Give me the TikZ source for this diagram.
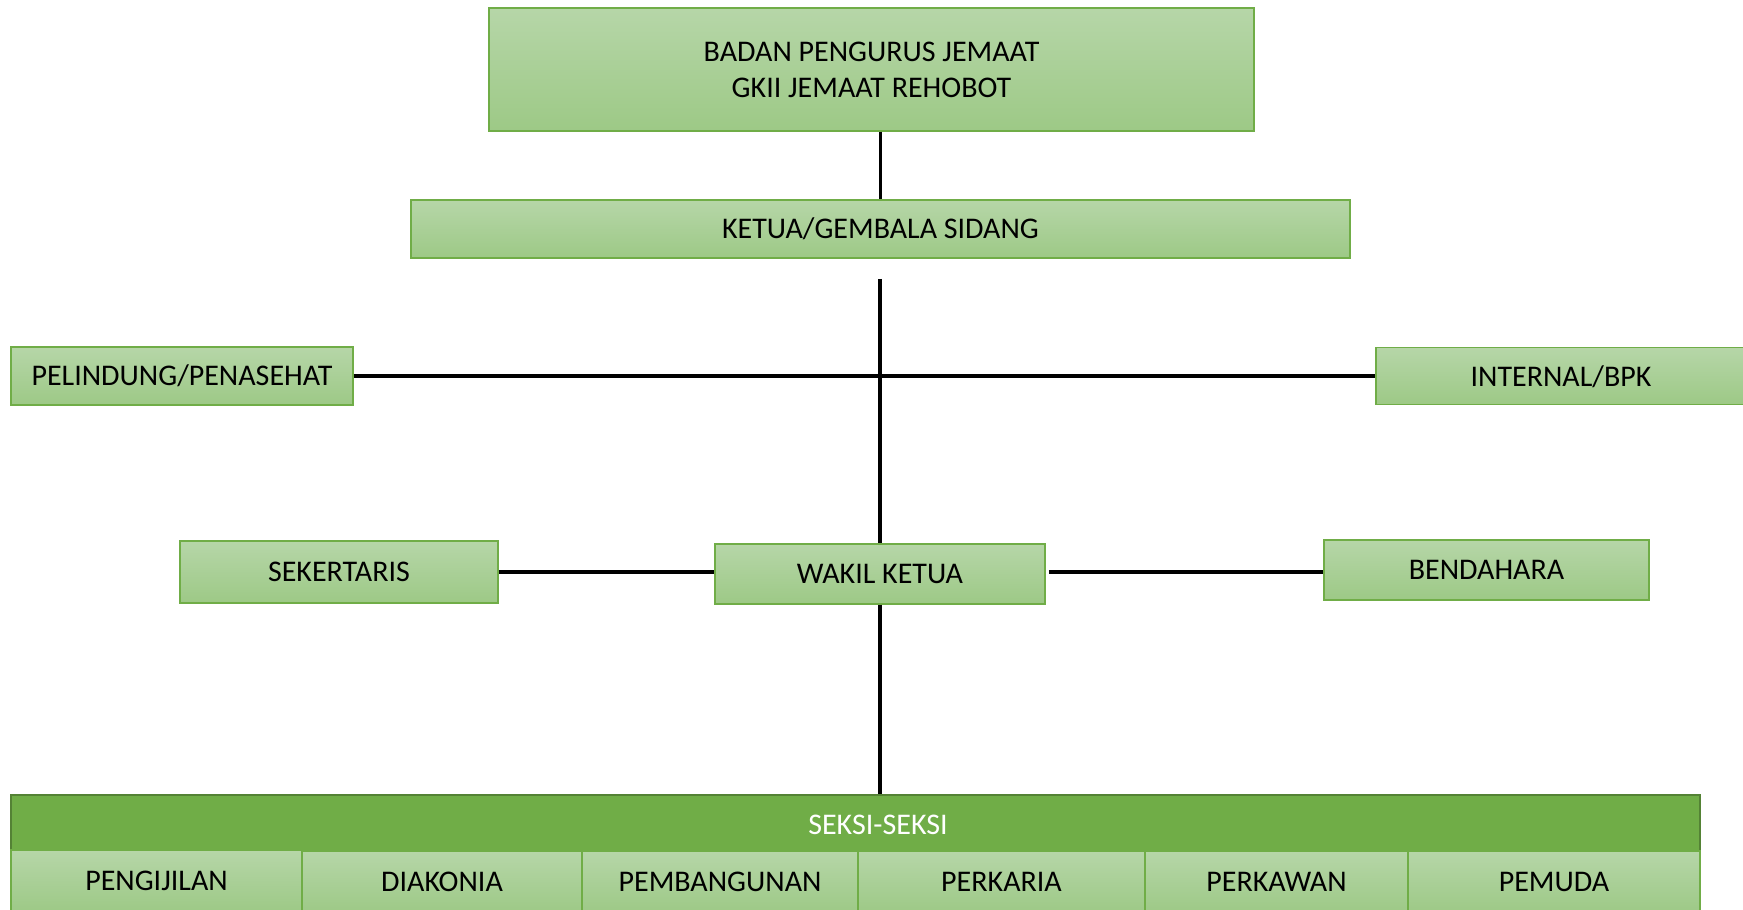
\documentclass[tikz,border=0pt]{standalone}
\usepackage{fontspec}
\setmainfont{Carlito}
\definecolor{gtop}{HTML}{B6D6A8}
\definecolor{gbot}{HTML}{9DC986}
\definecolor{gedge}{HTML}{70AD47}
\definecolor{gdark}{HTML}{70AD47}
\definecolor{gdarkedge}{HTML}{548235}
\tikzset{
  txt/.style={font=\fontsize{30}{36}\selectfont},
  box/.style={draw=gedge, line width=1.5pt, top color=gtop, bottom color=gbot,
    inner sep=0pt, align=center, txt, text=black},
  bar/.style={draw=gdarkedge, line width=2pt, fill=gdark, inner sep=0pt},
  conn/.style={line width=3.5pt, black}
}
\begin{document}
\begin{tikzpicture}[x=1pt,y=1pt]
\useasboundingbox (0,0) rectangle (1743,910);
\begin{scope}
\clip (0,0) rectangle (1743,910);
\node[box, minimum width=765, minimum height=123] (top) at (871.5,840.5) {BADAN PENGURUS JEMAAT\\GKII JEMAAT REHOBOT};
\node[box, minimum width=939, minimum height=58] (ketua) at (880.5,681) {KETUA/GEMBALA SIDANG};
\coordinate (gap) at (880,631);
\node[box, minimum width=342, minimum height=58] (pel) at (182,534) {PELINDUNG/PENASEHAT};
\node[box, minimum width=373, minimum height=57, anchor=west] (int) at (1375,534) {};
\node[txt] (intlbl) at (1561,533) {INTERNAL/BPK};
\node[box, minimum width=318, minimum height=62] (sek) at (339,338) {SEKERTARIS};
\node[box, minimum width=330, minimum height=60] (wak) at (880,336) {WAKIL KETUA};
\node[box, minimum width=325, minimum height=60] (ben) at (1486.5,340) {BENDAHARA};
\node[bar, minimum width=1689, minimum height=56] (seksi) at (855.5,87) {};
\node[txt, text=white] (seksilbl) at (878,85) {SEKSI-SEKSI};
% cells
\node[box, minimum width=291, minimum height=62] (c1) at (156.5,29) {PENGIJILAN};
\node[box, minimum width=280, minimum height=62] (c2) at (442,28) {DIAKONIA};
\node[box, minimum width=276, minimum height=62] (c3) at (720,28) {PEMBANGUNAN};
\node[box, minimum width=287, minimum height=62] (c4) at (1001.5,28) {PERKARIA};
\node[box, minimum width=263, minimum height=62] (c5) at (1276.5,28) {PERKAWAN};
\node[box, minimum width=292, minimum height=62] (c6) at (1554,28) {PEMUDA};
\end{scope}
% connectors
\draw[conn] (top.south -| ketua.north) -- (ketua.north);
\draw[conn] (gap) -- (wak.north);
\draw[conn] (pel.east) -- (int.west);
\draw[conn] (sek.east) -- (sek.east -| wak.west);
\draw[conn] ([xshift=3pt]wak.east |- sek.east) -- (ben.west |- sek.east);
\draw[conn] (wak.south) -- (wak.south |- seksi.north);
\end{tikzpicture}
\end{document}
